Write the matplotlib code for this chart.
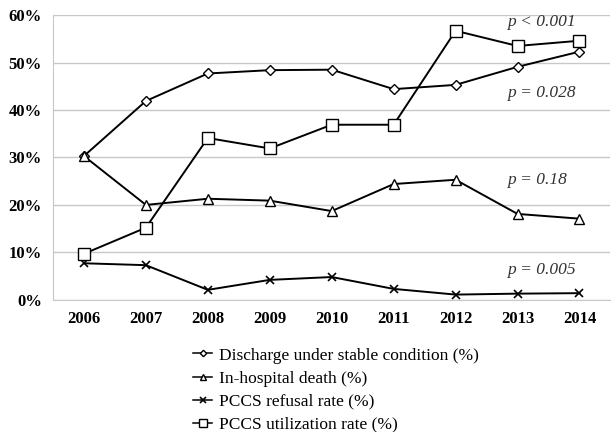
import numpy as np
import matplotlib.pyplot as plt

plt.rcParams['font.family'] = ['Liberation Serif', 'DejaVu Serif']

years = [2006, 2007, 2008, 2009, 2010, 2011, 2012, 2013, 2014]
discharge = [30.3, 41.9, 47.7, 48.4, 48.5, 44.4, 45.3, 49.1, 52.3]
death = [30.3, 20.0, 21.3, 20.9, 18.7, 24.4, 25.3, 18.1, 17.1]
refusal = [7.7, 7.3, 2.1, 4.2, 4.8, 2.3, 1.1, 1.3, 1.4]
utilization = [9.7, 15.2, 34.1, 31.9, 36.9, 36.9, 56.7, 53.5, 54.6]

labels = ["Discharge under stable condition (%)", "In-hospital death (%)",
          "PCCS refusal rate (%)", "PCCS utilization rate (%)"]
p_texts = ["p < 0.001", "p = 0.028", "p = 0.18", "p = 0.005"]
p_y = [56.8, 42.0, 23.6, 4.6]

fig = plt.figure(figsize=(6.16, 4.32), dpi=100)
ax = fig.add_axes([0.086, 0.306, 0.905, 0.659])

x = np.arange(len(years))
mk = dict(color='black', lw=1.4, markerfacecolor='white', markeredgecolor='black')
ax.plot(x, discharge, marker='D', ms=5, label=labels[0], **mk)
ax.plot(x, death, marker='^', ms=7, label=labels[1], **mk)
ax.plot(x, refusal, marker='x', ms=6, mew=1.2, label=labels[2], **mk)
ax.plot(x, utilization, marker='s', ms=9, label=labels[3], **mk)

for t, yy in zip(p_texts, p_y):
    ax.text(6.83, yy, t, fontsize=12.5, style='italic', color='#333333',
            va='bottom', ha='left')

ax.set_xlim(-0.5, 8.5)
ax.set_ylim(0, 60)
ax.set_xticks(x)
ax.set_xticklabels([str(y) for y in years], fontsize=12, fontweight='bold')
ax.set_yticks(np.arange(0, 61, 10))
ax.set_yticklabels([f"{v}%" for v in range(0, 61, 10)], fontsize=12,
                   fontweight='bold')
ax.grid(axis='y', color='#c8c8c8', lw=1)
ax.set_axisbelow(True)
for s in ['top', 'right']:
    ax.spines[s].set_visible(False)
for s in ['left', 'bottom']:
    ax.spines[s].set_color('#c8c8c8')
ax.tick_params(length=0, pad=8)

h, l = ax.get_legend_handles_labels()
leg = fig.legend(h, l, loc='upper left', bbox_to_anchor=(0.288, 0.232),
                 frameon=False, fontsize=12.5, handlelength=1.1,
                 handletextpad=0.4, labelspacing=0.4, markerscale=0.65)
for ln in leg.get_lines():
    ln.set_linewidth(1.1)

fig.savefig('out.png', dpi=100)
